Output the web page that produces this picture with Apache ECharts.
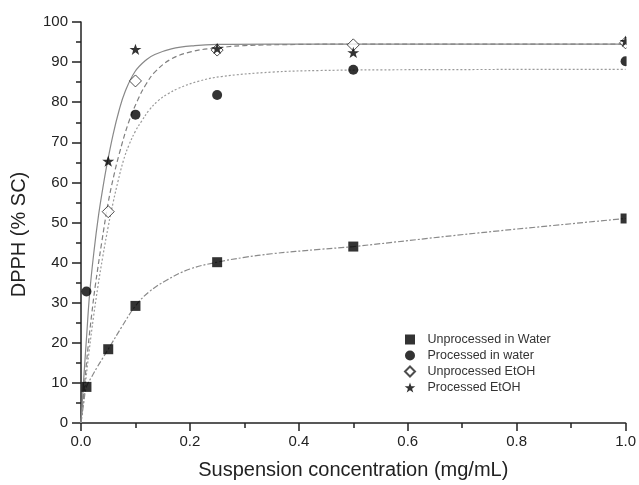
<!DOCTYPE html>
<html><head><meta charset="utf-8">
<script src="https://cdn.jsdelivr.net/npm/echarts@6/dist/echarts.min.js"></script>
<style>html,body{margin:0;padding:0;background:#fff}#c{width:639px;height:485px}</style>
</head><body><div id="c"></div>
<script>
// Measured points
const concentrations = [0.01, 0.05, 0.1, 0.25, 0.5, 1.0];
const unprocessedWater = [9.0, 18.4, 29.2, 40.1, 44.0, 51.0];
const processedWater = [32.8, null, 76.9, 81.8, 88.1, 90.2];
const unprocessedEtOH = [null, 52.7, 85.3, 93.0, 94.3, 94.8];
const processedEtOH = [null, 65.3, 93.2, 93.4, 92.4, 95.2];

// Fitted curves
const fitUWx = [0, 0.005, 0.01, 0.02, 0.03, 0.04, 0.05, 0.075, 0.1, 0.125, 0.157, 0.2, 0.25, 0.3, 0.35, 0.438, 0.5, 0.73, 1.0];
const fitUWy = [0, 5, 9, 11.6, 14.0, 16.2, 18.4, 24.0, 29.2, 32.7, 35.6, 38.4, 40.1, 41.3, 42.2, 43.3, 44.0, 47.4, 51.0];
const fitPWx = [0, 0.007, 0.015, 0.023, 0.031, 0.04, 0.05, 0.059, 0.068, 0.078, 0.088, 0.1, 0.111, 0.125, 0.142, 0.16, 0.178, 0.215, 0.258, 0.35, 0.438, 0.6, 1.0];
const fitPWy = [0, 8.5, 18, 26.5, 34, 41.5, 49, 55, 60.3, 65.5, 69.3, 72.8, 75.2, 78, 80.4, 82.1, 83.4, 85.2, 86.4, 87.5, 87.9, 88.1, 88.2];
const fitUEx = [0, 0.006, 0.013, 0.02, 0.026, 0.038, 0.05, 0.06, 0.07, 0.087, 0.105, 0.12, 0.1355, 0.166, 0.203, 0.239, 0.3, 0.4, 0.5, 1.0];
const fitUEy = [0, 9, 19, 27.5, 34, 45, 55, 61.5, 67, 74.8, 80.8, 84.6, 87.5, 90.8, 92.6, 93.4, 94.1, 94.4, 94.5, 94.5];
const fitPEx = [0, 0.005, 0.01, 0.016, 0.024, 0.032, 0.04, 0.047, 0.059, 0.07, 0.0806, 0.099, 0.12, 0.1355, 0.166, 0.209, 0.251, 0.35, 0.5, 1.0];
const fitPEy = [0, 11, 21, 32.5, 43, 51.6, 58.5, 64, 72, 78, 82.5, 87.6, 90.6, 91.9, 93.3, 94.1, 94.4, 94.5, 94.5, 94.5];

const seriesNames = ['Unprocessed in Water', 'Processed in water', 'Unprocessed EtOH', 'Processed EtOH'];
const xTickLabels = ['0.0', '0.2', '0.4', '0.6', '0.8', '1.0'];

const pairs = (xs, ys) => xs.map((x, i) => [x, ys[i]]).filter(p => p[1] !== null);
const STAR = 'path://M50,2 L61.8,36.2 L97.6,36.2 L68.6,57.3 L79.4,91.5 L50,70.4 L20.6,91.5 L31.4,57.3 L2.4,36.2 L38.2,36.2 Z';
const SQUARE = 'path://M0,0 L10,0 L10,10 L0,10 Z';
const DIAMOND = 'path://M5,0 L10,5 L5,10 L0,5 Z';
const FONT = 'Liberation Sans, Arial, sans-serif';

function fit(name, xs, ys, type, color) {
  return {
    name: name, type: 'line', data: pairs(xs, ys), showSymbol: false, symbol: 'none',
    smooth: 0.4, silent: true, z: 1,
    lineStyle: { color: color, width: 1.2, type: type }
  };
}
function pts(name, ys, symbol, size, style) {
  return {
    name: name, type: 'scatter', data: pairs(concentrations, ys), symbol: symbol,
    symbolSize: size, symbolKeepAspect: true, itemStyle: style, z: 3
  };
}

const chart = echarts.init(document.getElementById('c'), null, { renderer: 'canvas' });
const option = {
  backgroundColor: '#fff',
  animation: false,
  textStyle: { fontFamily: FONT },
  grid: { left: 81, right: 12, top: 22, bottom: 61, containLabel: false },
  legend: {
    data: seriesNames, orient: 'vertical', left: 399, top: 328,
    itemWidth: 25, itemHeight: 10, itemGap: 3, symbolKeepAspect: true,
    textStyle: { fontSize: 12.5, color: '#333', fontFamily: FONT }
  },
  xAxis: {
    type: 'value', min: 0, max: 1, interval: 0.2,
    name: 'Suspension concentration (mg/mL)', nameLocation: 'middle', nameGap: 37,
    nameTextStyle: { fontSize: 20, color: '#222', fontFamily: FONT },
    axisLine: { show: true, lineStyle: { color: '#222', width: 1.5 } },
    axisTick: { show: true, length: 8, lineStyle: { color: '#222', width: 1.5 } },
    minorTick: { show: true, splitNumber: 2, length: 5, lineStyle: { color: '#222', width: 1.5 } },
    splitLine: { show: false },
    axisLabel: { fontSize: 15, color: '#222', margin: 11, fontFamily: FONT,
      formatter: v => xTickLabels[Math.round(v / 0.2)] }
  },
  yAxis: {
    type: 'value', min: 0, max: 100, interval: 10,
    name: 'DPPH (% SC)', nameLocation: 'middle', nameGap: 52,
    nameTextStyle: { fontSize: 20, color: '#222', fontFamily: FONT, padding: [0, 24, 0, 0] },
    axisLine: { show: true, lineStyle: { color: '#222', width: 1.5 } },
    axisTick: { show: true, length: 9, lineStyle: { color: '#222', width: 1.5 } },
    minorTick: { show: true, splitNumber: 2, length: 5, lineStyle: { color: '#222', width: 1.5 } },
    splitLine: { show: false },
    axisLabel: { fontSize: 15, color: '#222', margin: 13, fontFamily: FONT }
  },
  series: [
    fit('fit1', fitUWx, fitUWy, [6, 2, 2, 2], '#8a8a8a'),
    fit('fit2', fitPWx, fitPWy, [2, 2], '#9a9a9a'),
    fit('fit3', fitUEx, fitUEy, [5, 3], '#808080'),
    fit('fit4', fitPEx, fitPEy, 'solid', '#888888'),
    pts(seriesNames[0], unprocessedWater, SQUARE, 10, { color: '#000' }),
    pts(seriesNames[1], processedWater, 'circle', 10, { color: '#000' }),
    pts(seriesNames[2], unprocessedEtOH, DIAMOND, 12, { color: '#fff', borderColor: '#222', borderWidth: 1 }),
    pts(seriesNames[3], processedEtOH, STAR, 12, { color: '#000' })
  ]
};
chart.setOption(option);
// clip markers beyond the right end of the x axis, as in the reference
const xEnd = chart.convertToPixel({ xAxisIndex: 0 }, 1);
const yBottom = chart.convertToPixel({ yAxisIndex: 0 }, 0);
chart.setOption({
  graphic: [{ type: 'rect', z: 50, silent: true,
    shape: { x: xEnd + 1, y: 0, width: 639 - xEnd, height: yBottom - 2 },
    style: { fill: '#fff' } }]
});
</script></body></html>
